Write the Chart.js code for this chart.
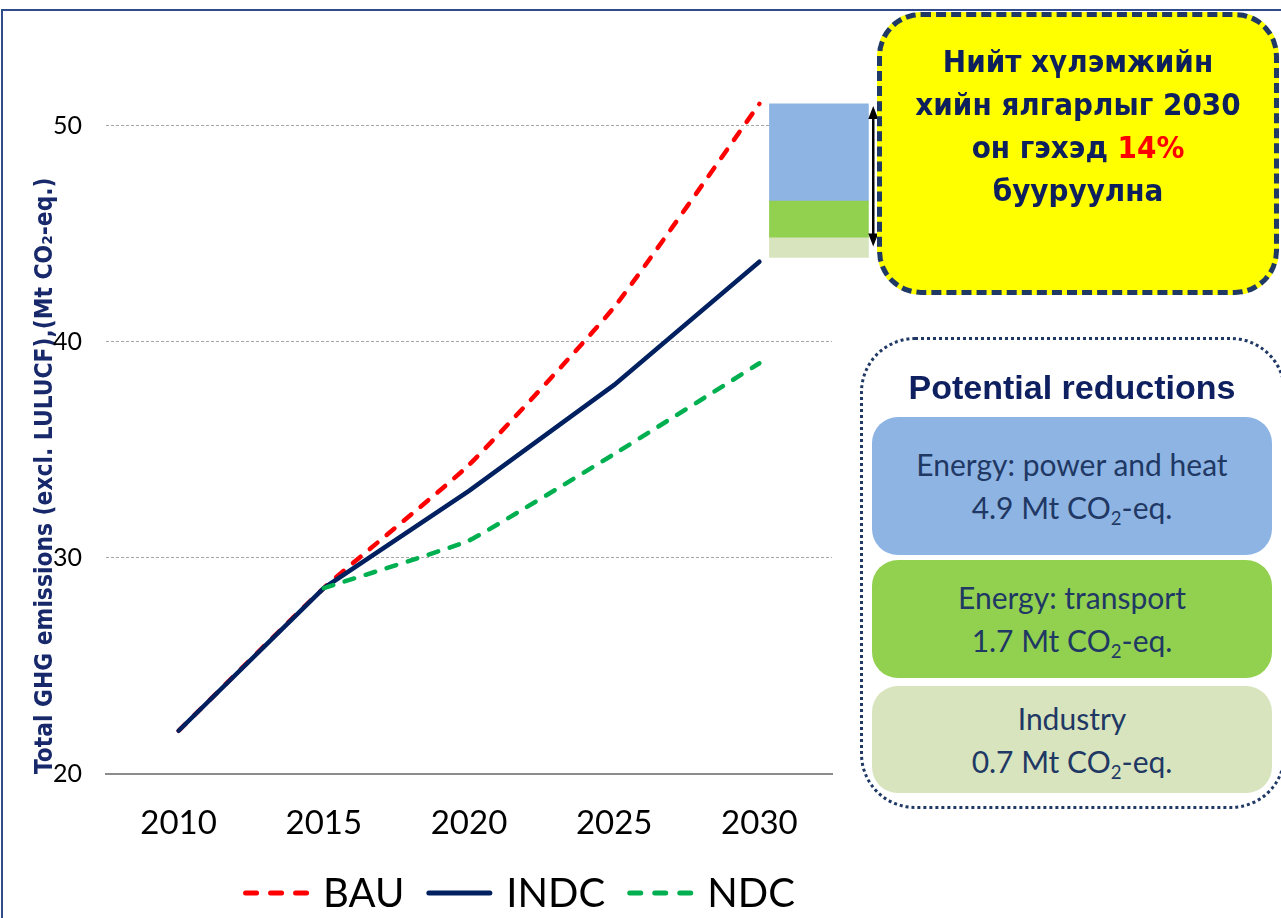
<!DOCTYPE html>
<html>
<head>
<meta charset="utf-8">
<title>Total GHG emissions</title>
<script src="https://cdn.jsdelivr.net/npm/chart.js@4.4.1/dist/chart.umd.min.js"></script>
<style>
  html, body { margin: 0; padding: 0; background: #fff; }
  body { width: 1281px; height: 918px; position: relative; overflow: hidden; font-family: Lato, 'Open Sans', sans-serif; }
  #frame { position: absolute; left: 1px; top: 9px; width: 1300px; height: 950px; border-top: 2px solid #2f4b8c; border-left: 2px solid #2f4b8c; }
  #chart { position: absolute; left: 0; top: 0; }
  #callout {
    position: absolute; left: 877px; top: 12px; width: 392px; height: 273px;
    background: #ffff00; border: 5px dashed #1f3864; border-radius: 44px;
    text-align: center; color: #0d1f5c;
    font: bold 31px 'Liberation Sans Narrow', 'DejaVu Sans Condensed', sans-serif;
    line-height: 43px;
  }
  #callout .txt { position: absolute; left: 0; right: 0; top: 23px; }
  #callout .red { color: #ff0000; }
  #potential {
    position: absolute; left: 860px; top: 337px; width: 420px; height: 466px;
    border: 3px dotted #1f3864; border-radius: 55px;
  }
  #potTitle {
    position: absolute; left: 862px; top: 366px; width: 420px; text-align: center;
    font: bold 34px 'Liberation Sans', Arial, sans-serif; color: #0f2060; line-height: 42px;
  }
  .rbox {
    position: absolute; left: 872px; width: 400px; border-radius: 26px;
    display: flex; flex-direction: column; justify-content: center; align-items: center;
    color: #1f3864; font-size: 30px; line-height: 43px;
  }
  .rbox sub { font-size: 0.62em; vertical-align: -0.3em; line-height: 0; }
</style>
</head>
<body>
<div id="frame"></div>
<canvas id="chart" width="880" height="918"></canvas>

<div id="callout"><div class="txt">Нийт хүлэмжийн<br>хийн ялгарлыг 2030<br>он гэхэд <span class="red">14%</span><br>бууруулна</div></div>
<div id="potential"></div>
<div id="potTitle">Potential reductions</div>
<div id="boxes"></div>

<script>
// chart data
const years = [2010, 2015, 2020, 2025, 2030];
const bau = [22.0, 28.6, 34.3, 41.6, 51.0];
const indc = [22.0, 28.6, 33.1, 38.0, 43.7];
const ndc = [null, 28.6, 30.8, 34.8, 39.0];
const yTicks = [20, 30, 40, 50];

// reductions stacked above INDC 2030 (bottom to top)
const reductionLabels = ['Industry', 'Energy: transport', 'Energy: power and heat'];
const reductionValues = [0.7, 1.7, 4.9];          // as written in the boxes
const barEdges = [43.9, 44.8, 46.5, 51.0];        // segment edges as drawn
const barYear = 2032.05;
const arrowRange = [50.9, 44.4];
const arrowYear = 2033.92;

const reductionColors = ['#d7e4bd', '#92d050', '#8eb4e3'];
const boxGeom = [[686, 107], [560, 118], [417, 138]]; // top, height

const narrow = "'Liberation Sans Narrow', 'DejaVu Sans Condensed', sans-serif";
const lato = "Lato, 'Open Sans', sans-serif";

// right side boxes
const boxes = document.getElementById('boxes');
reductionLabels.forEach((lab, i) => {
  const d = document.createElement('div');
  d.className = 'rbox';
  d.style.top = boxGeom[i][0] + 'px';
  d.style.height = boxGeom[i][1] + 'px';
  d.style.background = reductionColors[i];
  d.innerHTML = '<div>' + lab + '</div><div>' + reductionValues[i].toFixed(1) + ' Mt CO<sub>2</sub>-eq.</div>';
  boxes.appendChild(d);
});

const toPoints = arr => years.map((yr, i) => ({ x: yr, y: arr[i] }));

const lineDatasets = [
  { type: 'line', label: 'BAU', data: toPoints(bau), borderColor: '#ff0000', borderWidth: 4.5,
    borderDash: [10, 12], borderCapStyle: 'round', order: 3, tension: 0.15 },
  { type: 'line', label: 'INDC', data: toPoints(indc), borderColor: '#002060', borderWidth: 4.5,
    borderCapStyle: 'round', order: 2, tension: 0 },
  { type: 'line', label: 'NDC', data: toPoints(ndc), borderColor: '#00b050', borderWidth: 4.5,
    borderDash: [10, 12], borderCapStyle: 'round', order: 1, tension: 0.1 }
].map(ds => Object.assign(ds, { pointRadius: 0, fill: false }));

const barDatasets = reductionLabels.map((lab, i) => ({
  type: 'bar',
  label: lab,
  data: [{ x: barYear, y: [barEdges[i], barEdges[i + 1]] }],
  backgroundColor: reductionColors[i],
  barThickness: 99,
  grouped: false,
  clip: false,
  order: 5
}));

// double arrow next to the bar
const arrowPlugin = {
  id: 'arrow',
  afterDatasetsDraw(chart) {
    const { x, y } = chart.scales;
    const ctx = chart.ctx;
    const px = x.getPixelForValue(arrowYear);
    const y1 = y.getPixelForValue(arrowRange[0]);
    const y2 = y.getPixelForValue(arrowRange[1]);
    ctx.save();
    ctx.strokeStyle = '#000';
    ctx.fillStyle = '#000';
    ctx.lineWidth = 2.5;
    ctx.beginPath();
    ctx.moveTo(px, y1 + 10);
    ctx.lineTo(px, y2 - 10);
    ctx.stroke();
    ctx.beginPath();
    ctx.moveTo(px, y1); ctx.lineTo(px - 5, y1 + 13); ctx.lineTo(px + 5, y1 + 13); ctx.closePath();
    ctx.moveTo(px, y2); ctx.lineTo(px - 5, y2 - 13); ctx.lineTo(px + 5, y2 - 13); ctx.closePath();
    ctx.fill();
    ctx.restore();
  }
};

// legend row for the line series
const lineLegend = {
  id: 'lineLegend',
  afterDraw(chart, args, opts) {
    const ctx = chart.ctx;
    const items = chart.data.datasets.filter(ds => ds.type === 'line');
    ctx.save();
    ctx.font = opts.fontSize + 'px ' + lato;
    ctx.textBaseline = 'middle';
    const widths = items.map(ds => opts.sample + opts.gap + ctx.measureText(ds.label).width);
    const total = widths.reduce((a, b) => a + b, 0) + opts.spacing * (items.length - 1);
    let x = opts.centerX - total / 2;
    items.forEach((ds, i) => {
      ctx.strokeStyle = ds.borderColor;
      ctx.lineWidth = 5;
      ctx.lineCap = 'round';
      ctx.setLineDash(ds.borderDash ? [11, 14] : []);
      ctx.beginPath();
      ctx.moveTo(x + 2.5, opts.y);
      ctx.lineTo(x + opts.sample - 2.5, opts.y);
      ctx.stroke();
      ctx.setLineDash([]);
      ctx.fillStyle = '#000';
      ctx.fillText(ds.label, x + opts.sample + opts.gap, opts.y + 1);
      x += widths[i] + opts.spacing;
    });
    ctx.restore();
  }
};

new Chart(document.getElementById('chart'), {
  type: 'line',
  data: { datasets: [...lineDatasets, ...barDatasets] },
  plugins: [arrowPlugin, lineLegend],
  options: {
    responsive: false,
    animation: false,
    devicePixelRatio: 1,
    layout: { padding: { top: 37, right: 48, bottom: 74, left: 0 } },
    scales: {
      x: {
        type: 'linear',
        offset: false,
        min: 2007.5,
        max: 2032.5,
        afterBuildTicks: s => { s.ticks = years.map(v => ({ value: v })); },
        afterFit: s => { s.height = 70; },
        grid: { display: false, drawTicks: false, offset: false },
        border: { display: true, color: '#8c8c8c', width: 2 },
        ticks: { padding: 30, color: '#000', font: { family: lato, size: 33 }, callback: v => String(v) }
      },
      y: {
        min: 20,
        max: 54,
        afterBuildTicks: s => { s.ticks = yTicks.map(v => ({ value: v })); },
        afterFit: s => { s.width = 106; },
        grid: { color: '#a6a6a6', lineWidth: 1, drawTicks: false },
        border: { display: false, dash: [3, 2] },
        ticks: { padding: 24, color: '#000', font: { family: lato, size: 25 } },
        title: {
          display: true,
          text: 'Total GHG emissions (excl. LULUCF),(Mt CO₂-eq.)',
          align: 'start',
          color: '#17286b',
          font: { family: narrow, size: 24.3, weight: 'bold' },
          padding: { top: 31, bottom: 0 }
        }
      }
    },
    plugins: {
      legend: { display: false },
      tooltip: { enabled: false },
      lineLegend: { centerX: 519, y: 893, sample: 66, gap: 14, spacing: 22, fontSize: 40 }
    }
  }
});
</script>
</body>
</html>
